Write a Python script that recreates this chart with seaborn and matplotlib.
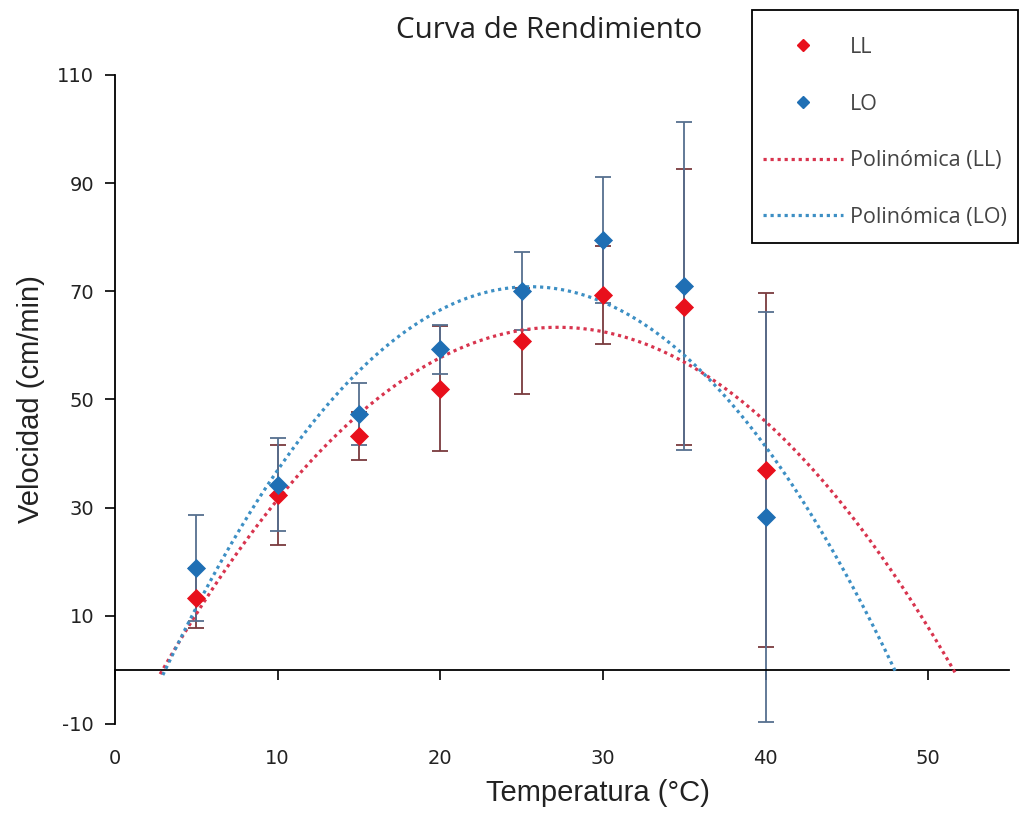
import numpy as np
import pandas as pd
import matplotlib
matplotlib.use("Agg")
import matplotlib.pyplot as plt
import seaborn as sns
from matplotlib.lines import Line2D
from matplotlib.patches import Rectangle

# ---- data ----
temperatura = [5, 10, 15, 20, 25, 30, 35, 40]
ll_vel = [13.3, 32.3, 43.2, 52.0, 60.8, 69.3, 67.1, 37.0]
ll_err = [5.5, 9.3, 4.4, 11.5, 9.8, 9.0, 25.5, 32.7]
lo_vel = [18.9, 34.2, 47.3, 59.3, 70.1, 79.5, 71.0, 28.3]
lo_err = [9.8, 8.6, 5.7, 4.5, 7.2, 11.6, 30.3, 37.9]
x_ticks = [0, 10, 20, 30, 40, 50]
y_ticks = [-10, 10, 30, 50, 70, 90, 110]

title = "Curva de Rendimiento"
xlabel = "Temperatura (°C)"
ylabel = "Velocidad (cm/min)"

RED = "#e8101c"
BLUE = "#1f6fb4"
RED_ERR = "#7a3a3e"
BLUE_ERR = "#566f8f"
RED_TREND = "#d8344e"
BLUE_TREND = "#3d8fc4"

sns.set_theme(style="white")
plt.rcParams["font.family"] = ["DejaVu Sans"]
plt.rcParams["axes.unicode_minus"] = False

fig = plt.figure(figsize=(10.2, 8.15), dpi=100)
ax = fig.add_axes([0.1127, 0.1117, 0.877, 0.7963])

df = pd.DataFrame({"x": temperatura, "LL": ll_vel, "LO": lo_vel})

# error bars
ax.errorbar(temperatura, ll_vel, yerr=ll_err, fmt="none", ecolor=RED_ERR,
            elinewidth=1.3, capsize=6, capthick=1.3, zorder=2)
ax.errorbar(temperatura, lo_vel, yerr=lo_err, fmt="none", ecolor=BLUE_ERR,
            elinewidth=1.3, capsize=6, capthick=1.3, zorder=2)

# polynomial trendlines (order 2) fitted from the data
for yv, col in [(ll_vel, RED_TREND), (lo_vel, BLUE_TREND)]:
    c = np.polyfit(temperatura, yv, 2)
    r = np.sort(np.real(np.roots(c)))
    xs = np.linspace(r[0] - 0.15, r[1] + 0.1, 300)
    ys = np.polyval(c, xs)
    sns.lineplot(x=xs, y=ys, ax=ax, color=col, linestyle=(0, (1, 1.2)),
                 linewidth=2.3, zorder=3, legend=False)

# markers
sns.scatterplot(data=df, x="x", y="LL", ax=ax, marker="D", s=95, color=RED,
                edgecolor=RED, linewidth=0, zorder=4, legend=False)
sns.scatterplot(data=df, x="x", y="LO", ax=ax, marker="D", s=95, color=BLUE,
                edgecolor=BLUE, linewidth=0, zorder=4, legend=False)

ax.set_xlim(0, 55)
ax.set_ylim(-10, 110)
ax.set_xticks(x_ticks)
ax.set_yticks(y_ticks)
ax.grid(False)

for s in ["top", "right"]:
    ax.spines[s].set_visible(False)
ax.spines["bottom"].set_position(("data", 0))
ax.spines["left"].set_position(("data", 0))
for s in ["bottom", "left"]:
    ax.spines[s].set_color("black")
    ax.spines[s].set_linewidth(1.3)

ax.tick_params(axis="x", direction="out", length=7, width=1.2, color="black",
               pad=50, labelsize=14, labelcolor="#222222", bottom=True)
ax.tick_params(axis="y", direction="out", length=7, width=1.2, color="black",
               pad=8, labelsize=14, labelcolor="#222222", left=True)
for t in ax.get_xticklabels() + ax.get_yticklabels():
    t.set_family(["DejaVu Sans"])

ax.set_xlabel(xlabel, fontsize=21, family=["Liberation Sans"], color="#222222")
ax.xaxis.set_label_coords(0.54, -0.085)
ax.set_ylabel(ylabel, fontsize=21, family=["Liberation Sans"], color="#222222")
ax.yaxis.set_label_coords(-0.078, 0.5)

fig.text(0.538, 0.963, title, ha="center", va="center", fontsize=21.3,
         family=["Open Sans"], color="#222222")

# legend box
fig.patches.append(Rectangle((752 / 1020, 1 - 243 / 815), 266 / 1020, 233 / 815,
                             transform=fig.transFigure, facecolor="white",
                             edgecolor="black", linewidth=1.3, zorder=5))

handles = [
    Line2D([], [], marker="D", color=RED, linestyle="none", markersize=6),
    Line2D([], [], marker="D", color=BLUE, linestyle="none", markersize=6),
    Line2D([], [], color=RED_TREND, linestyle=(0, (1, 1.2)), linewidth=2.3),
    Line2D([], [], color=BLUE_TREND, linestyle=(0, (1, 1.2)), linewidth=2.3),
]
labels = ["LL", "LO", "Polinómica (LL)", "Polinómica (LO)"]
leg = fig.legend(handles, labels, loc="upper left",
                 bbox_to_anchor=(763 / 1020, 1 - 37 / 815), frameon=False,
                 prop={"family": ["Open Sans"], "size": 15.5},
                 labelspacing=1.65, handlelength=3.7, handletextpad=0.33,
                 borderpad=0, borderaxespad=0)
leg.set_zorder(6)
for t in leg.get_texts():
    t.set_color("#444444")

fig.savefig("out.png", dpi=100)
